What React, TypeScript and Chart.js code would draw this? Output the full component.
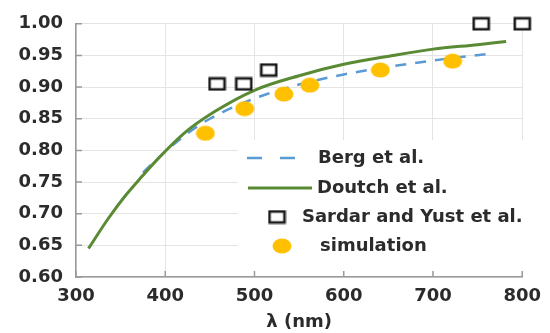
import React, { useEffect, useRef } from "react";
import { Chart, registerables } from "chart.js";

Chart.register(...registerables);

const xTicks = [300, 400, 500, 600, 700, 800];
const yTicks = [0.6, 0.65, 0.7, 0.75, 0.8, 0.85, 0.9, 0.95, 1.0];

const bergX = [375, 400, 425, 450, 500, 550, 600, 650, 700, 765];
const bergY = [0.765, 0.798, 0.827, 0.85, 0.882, 0.904, 0.92, 0.932, 0.942, 0.953];

const doutchX = [314, 336, 355, 374, 392, 421, 455, 500, 550, 600, 655, 700, 750, 782];
const doutchY = [0.645, 0.692, 0.728, 0.759, 0.787, 0.827, 0.861, 0.895, 0.918, 0.936, 0.95, 0.96, 0.967, 0.972];

const sardarX = [458, 488, 516, 754, 800];
const sardarY = [0.905, 0.905, 0.927, 1.0, 1.0];

const simX = [445, 489, 533, 562, 641, 722];
const simY = [0.827, 0.866, 0.889, 0.903, 0.927, 0.941];

const legendLabels = ["Berg et al.", "Doutch et al.", "Sardar and Yust et al.", "simulation"];
const xTitle = "λ (nm)";

const FONT = "'DejaVu Sans', sans-serif";
const TEXT = "#2b2b2b";
const GREEN = "#5a8a34";
const BLUE = "#5b9bd5";
const ORANGE = "#ffc000";
const AXIS = "#9a9a9a";

function makeSquare(): HTMLCanvasElement {
  const c = document.createElement("canvas");
  c.width = 19;
  c.height = 15;
  const ctx = c.getContext("2d")!;
  ctx.fillStyle = "#ffffff";
  ctx.fillRect(2, 2, 15, 11);
  ctx.strokeStyle = "#1a1a1a";
  ctx.lineWidth = 2.6;
  ctx.strokeRect(2, 2, 15, 11);
  return c;
}

function makeDot(): HTMLCanvasElement {
  const c = document.createElement("canvas");
  c.width = 20;
  c.height = 16;
  const ctx = c.getContext("2d")!;
  ctx.fillStyle = ORANGE;
  ctx.beginPath();
  ctx.ellipse(10, 8, 9.5, 7.5, 0, 0, Math.PI * 2);
  ctx.fill();
  return c;
}

const zip = (xs: number[], ys: number[]) => xs.map((x, i) => ({ x, y: ys[i] }));

export default function App() {
  const ref = useRef<HTMLCanvasElement | null>(null);

  useEffect(() => {
    const sq = makeSquare();
    const dot = makeDot();

    const legendPlugin = {
      id: "customLegend",
      beforeDatasetsDraw(chart: any) {
        const { ctx, chartArea, scales } = chart;
        ctx.save();
        ctx.fillStyle = "#ffffff";
        ctx.fillRect(238, 140, 289, 133);
        ctx.strokeStyle = AXIS;
        ctx.lineWidth = 1.5;
        ctx.beginPath();
        xTicks.forEach((v) => {
          const px = scales.x.getPixelForValue(v);
          ctx.moveTo(px, chartArea.bottom);
          ctx.lineTo(px, chartArea.bottom - 6);
        });
        yTicks.forEach((v) => {
          const py = scales.y.getPixelForValue(v);
          ctx.moveTo(chartArea.left, py);
          ctx.lineTo(chartArea.left + 6, py);
        });
        ctx.stroke();

        ctx.font = `bold 18px ${FONT}`;
        ctx.fillStyle = TEXT;
        ctx.textBaseline = "middle";
        ctx.textAlign = "left";
        ctx.strokeStyle = BLUE;
        ctx.lineWidth = 2.5;
        ctx.setLineDash([15, 18]);
        ctx.beginPath();
        ctx.moveTo(247, 158);
        ctx.lineTo(298, 158);
        ctx.stroke();
        ctx.setLineDash([]);
        ctx.fillText(legendLabels[0], 318, 158);
        ctx.strokeStyle = GREEN;
        ctx.lineWidth = 3;
        ctx.beginPath();
        ctx.moveTo(248, 188);
        ctx.lineTo(312, 188);
        ctx.stroke();
        ctx.fillText(legendLabels[1], 317, 188);
        ctx.drawImage(sq, 277 - sq.width / 2, 217 - sq.height / 2);
        ctx.fillText(legendLabels[2], 302, 217);
        ctx.drawImage(dot, 282 - dot.width / 2, 246 - dot.height / 2);
        ctx.fillText(legendLabels[3], 320, 246);
        ctx.restore();
      },
      afterDraw(chart: any) {
        const { ctx, chartArea } = chart;
        ctx.save();
        ctx.font = `bold 18px ${FONT}`;
        ctx.fillStyle = TEXT;
        ctx.textAlign = "center";
        ctx.textBaseline = "middle";
        const cx = (chartArea.left + chartArea.right) / 2;
        ctx.fillText(xTitle, cx, 322);
        ctx.restore();
      },
    };

    const chart = new Chart(ref.current!, {
      type: "scatter",
      data: {
        datasets: [
          {
            label: legendLabels[0],
            data: zip(bergX, bergY),
            showLine: true,
            borderColor: BLUE,
            borderWidth: 2.5,
            borderDash: [11, 9],
            pointRadius: 0,
            cubicInterpolationMode: "monotone",
            order: 3,
          },
          {
            label: legendLabels[1],
            data: zip(doutchX, doutchY),
            showLine: true,
            borderColor: GREEN,
            borderWidth: 3,
            pointRadius: 0,
            cubicInterpolationMode: "monotone",
            order: 2,
          },
          {
            label: legendLabels[2],
            data: zip(sardarX, sardarY),
            pointStyle: sq as any,
            pointRadius: 8,
            clip: false,
            order: 1,
          },
          {
            label: legendLabels[3],
            data: zip(simX, simY),
            pointStyle: dot as any,
            pointRadius: 8,
            clip: false,
            order: 0,
          },
        ],
      },
      options: {
        animation: false,
        responsive: false,
        maintainAspectRatio: false,
        layout: { padding: { top: 22, right: 20, left: 0, bottom: 0 } },
        plugins: {
          legend: { display: false },
          tooltip: { enabled: false },
        },
        scales: {
          x: {
            type: "linear",
            min: 300,
            max: 800,
            afterBuildTicks: (s: any) => {
              s.ticks = xTicks.map((v) => ({ value: v }));
            },
            afterFit: (s: any) => {
              s.height = 56;
            },
            ticks: {
              font: { family: FONT, size: 18, weight: "bold" },
              color: TEXT,
              padding: 9,
            },
            grid: { color: "#e4e4e4", drawTicks: false, lineWidth: 1 },
            border: { color: AXIS, width: 1.5 },
          },
          y: {
            type: "linear",
            min: 0.6,
            max: 1.0,
            afterBuildTicks: (s: any) => {
              s.ticks = yTicks.map((v) => ({ value: v }));
            },
            afterFit: (s: any) => {
              s.width = 76;
            },
            ticks: {
              font: { family: FONT, size: 18, weight: "bold" },
              color: TEXT,
              padding: 13,
              callback: (v: any) => Number(v).toFixed(2),
            },
            grid: { color: "#e4e4e4", drawTicks: false, lineWidth: 1 },
            border: { color: AXIS, width: 1.5 },
          },
        },
      },
      plugins: [legendPlugin],
    } as any);

    return () => chart.destroy();
  }, []);

  return (
    <div style={{ position: "fixed", left: 0, top: 0, width: 550, height: 333, background: "#fff" }}>
      <canvas ref={ref} width={550} height={333} style={{ width: 550, height: 333, display: "block" }} />
    </div>
  );
}
